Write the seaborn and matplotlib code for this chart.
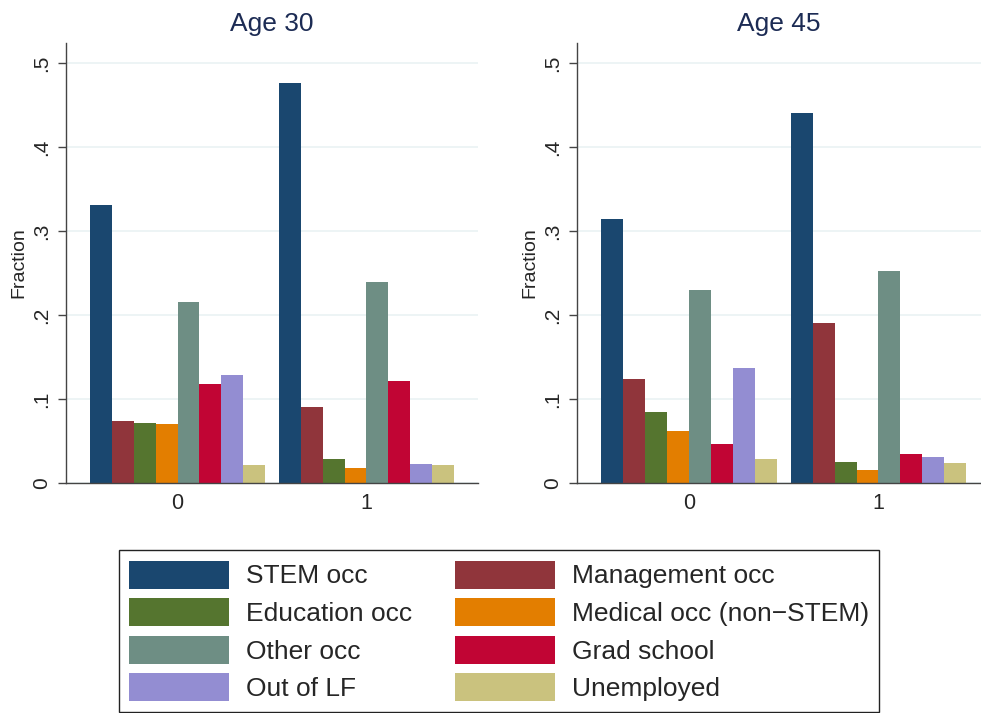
import matplotlib
matplotlib.use("Agg")
import matplotlib.pyplot as plt
import seaborn as sns
import pandas as pd
from matplotlib.patches import Patch

# Data
groups = ["0", "1"]
statuses = ["STEM occ", "Management occ", "Education occ", "Medical occ (non\u2212STEM)",
            "Other occ", "Grad school", "Out of LF", "Unemployed"]
colors = ["#1a476f", "#90353b", "#55752f", "#e37e00",
          "#6e8e84", "#c10534", "#938dd2", "#cac27e"]

age30_g0 = [0.331, 0.074, 0.072, 0.070, 0.216, 0.118, 0.129, 0.021]
age30_g1 = [0.476, 0.090, 0.029, 0.018, 0.239, 0.122, 0.023, 0.021]
age45_g0 = [0.314, 0.124, 0.084, 0.062, 0.230, 0.046, 0.137, 0.029]
age45_g1 = [0.441, 0.191, 0.025, 0.016, 0.253, 0.035, 0.031, 0.024]

panels = [("Age 30", age30_g0, age30_g1), ("Age 45", age45_g0, age45_g1)]

sns.set_theme(style="white")
plt.rcParams['font.family'] = ['Liberation Sans', 'DejaVu Sans']

fig = plt.figure(figsize=(9.81, 7.13), dpi=100)
ax_rects = [[66 / 981, 230 / 713, 412 / 981, 440 / 713],
            [577 / 981, 230 / 713, 404 / 981, 440 / 713]]
xlims = [(-0.59, 1.59), (-0.591, 1.541)]

for (title, g0, g1), rect, xl in zip(panels, ax_rects, xlims):
    ax = fig.add_axes(rect)
    df = pd.DataFrame({
        "group": [groups[0]] * len(statuses) + [groups[1]] * len(statuses),
        "status": statuses + statuses,
        "fraction": g0 + g1,
    })
    sns.barplot(data=df, x="group", y="fraction", hue="status", order=groups,
                hue_order=statuses, palette=colors, saturation=1, width=0.926, gap=0,
                linewidth=0, legend=False, ax=ax)
    ax.set_xlim(*xl)
    ax.set_ylim(0, 0.524)
    ax.set_yticks([0, 0.1, 0.2, 0.3, 0.4, 0.5])
    ax.set_yticklabels(["0", ".1", ".2", ".3", ".4", ".5"], rotation=90, va="center")
    ax.yaxis.grid(True, color="#eaf2f3", linewidth=1.2)
    ax.set_axisbelow(True)
    ax.tick_params(axis="y", length=6, width=1, color="#444444", pad=5, labelsize=15,
                   left=True)
    ax.tick_params(axis="x", length=0, pad=7, labelsize=15.5)
    for s in ["top", "right"]:
        ax.spines[s].set_visible(False)
    for s in ["left", "bottom"]:
        ax.spines[s].set_color("#444444")
        ax.spines[s].set_linewidth(1)
    ax.set_xlabel("")
    ax.set_ylabel("Fraction", fontsize=14, labelpad=3)
    ax.set_title(title, fontsize=19, color="#1c2b54", pad=9)

handles = [Patch(facecolor=c, edgecolor="none") for c in colors]
order = [0, 2, 4, 6, 1, 3, 5, 7]
leg = fig.legend([handles[i] for i in order], [statuses[i] for i in order], ncol=2,
                 loc="lower center", bbox_to_anchor=(0.5087, 0.0015), fontsize=19,
                 frameon=True, fancybox=False, edgecolor="#222222", framealpha=1,
                 handlelength=3.79, handleheight=1.26, labelspacing=0.36,
                 handletextpad=0.64, columnspacing=1.6, borderpad=0.4,
                 borderaxespad=0)
leg.get_frame().set_linewidth(1)

fig.savefig("out.png", dpi=100)
